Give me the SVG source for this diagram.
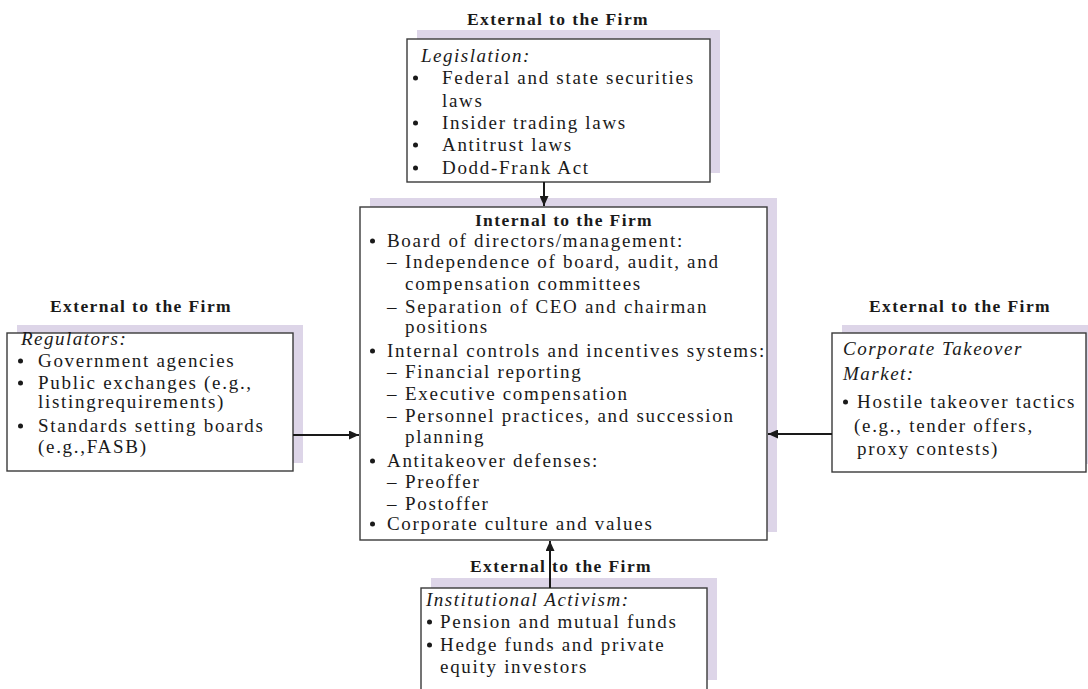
<svg xmlns="http://www.w3.org/2000/svg" width="1088" height="689" viewBox="0 0 1088 689">
<style>
.sh{fill:#ddd5e8;stroke:none}
.bx{fill:#ffffff;stroke:#3a3a3a;stroke-width:1.4}
.b{fill:#1a1a1a}
text{font-family:"Liberation Serif","Times New Roman",serif;fill:#1a1a1a}
.t{font-size:19px;letter-spacing:1.7px}
.i{font-size:19px;letter-spacing:1.5px;font-style:italic}
.h{font-size:17.5px;font-weight:bold;letter-spacing:1.4px;text-anchor:middle}
.cn{stroke:#1a1a1a;stroke-width:2;fill:none}
</style>
<defs>
<marker id="ah" viewBox="0 0 10 10" refX="10" refY="5" markerWidth="5" markerHeight="4.5" orient="auto" markerUnits="strokeWidth" preserveAspectRatio="none">
<path d="M0,0 L10,5 L0,10 z" fill="#1a1a1a"/>
</marker>
</defs>
<rect width="1088" height="689" fill="#ffffff"/>

<g id="legislation">
<text class="h" x="558" y="25">External to the Firm</text>
<rect class="sh" x="417" y="30" width="303" height="143"/>
<rect class="bx" x="407" y="39" width="303" height="143"/>
<text class="i" x="421" y="62">Legislation:</text>
<circle class="b" cx="415.5" cy="78" r="2.5"/><text class="t" x="442" y="84">Federal and state securities</text>
<text class="t" x="442" y="107">laws</text>
<circle class="b" cx="415.5" cy="123" r="2.5"/><text class="t" x="442" y="129">Insider trading laws</text>
<circle class="b" cx="415.5" cy="145" r="2.5"/><text class="t" x="442" y="151">Antitrust laws</text>
<circle class="b" cx="415.5" cy="168" r="2.5"/><text class="t" x="442" y="174">Dodd-Frank Act</text>
</g>

<g id="internal">
<rect class="sh" x="370" y="198" width="407" height="334"/>
<rect class="bx" x="360" y="207" width="407" height="333"/>
<text class="h" x="564" y="226">Internal to the Firm</text>
<circle class="b" cx="372.5" cy="241" r="2.5"/><text class="t" x="387" y="247">Board of directors/management:</text>
<text class="t" x="387" y="268">–</text><text class="t" x="405" y="268">Independence of board, audit, and</text>
<text class="t" x="405" y="290">compensation committees</text>
<text class="t" x="387" y="313">–</text><text class="t" x="405" y="313">Separation of CEO and chairman</text>
<text class="t" x="405" y="333">positions</text>
<circle class="b" cx="372.5" cy="351" r="2.5"/><text class="t" x="387" y="357">Internal controls and incentives systems:</text>
<text class="t" x="387" y="378">–</text><text class="t" x="405" y="378">Financial reporting</text>
<text class="t" x="387" y="400">–</text><text class="t" x="405" y="400">Executive compensation</text>
<text class="t" x="387" y="422">–</text><text class="t" x="405" y="422">Personnel practices, and succession</text>
<text class="t" x="405" y="443">planning</text>
<circle class="b" cx="372.5" cy="461" r="2.5"/><text class="t" x="387" y="467">Antitakeover defenses:</text>
<text class="t" x="387" y="488">–</text><text class="t" x="405" y="488">Preoffer</text>
<text class="t" x="387" y="510">–</text><text class="t" x="405" y="510">Postoffer</text>
<circle class="b" cx="372.5" cy="524" r="2.5"/><text class="t" x="387" y="530">Corporate culture and values</text>
</g>

<g id="regulators">
<text class="h" x="141" y="312">External to the Firm</text>
<rect class="sh" x="17" y="325" width="286" height="138"/>
<rect class="bx" x="7" y="333" width="286" height="138"/>
<text class="i" x="21" y="345">Regulators:</text>
<circle class="b" cx="20.5" cy="361" r="2.5"/><text class="t" x="38" y="367">Government agencies</text>
<circle class="b" cx="20.5" cy="383" r="2.5"/><text class="t" x="38" y="389">Public exchanges (e.g.,</text>
<text class="t" x="38" y="408">listingrequirements)</text>
<circle class="b" cx="20.5" cy="426" r="2.5"/><text class="t" x="38" y="432">Standards setting boards</text>
<text class="t" x="38" y="453">(e.g.,FASB)</text>
</g>

<g id="takeover">
<text class="h" x="960" y="312">External to the Firm</text>
<rect class="sh" x="842" y="325" width="250" height="139"/>
<rect class="bx" x="832" y="333" width="254" height="139"/>
<text class="i" x="843" y="355">Corporate Takeover</text>
<text class="i" x="843" y="380">Market:</text>
<circle class="b" cx="845.5" cy="402" r="2.5"/><text class="t" x="857" y="408">Hostile takeover tactics</text>
<text class="t" x="854" y="432">(e.g., tender offers,</text>
<text class="t" x="857" y="455">proxy contests)</text>
</g>

<g id="activism">
<text class="h" x="561" y="572">External to the Firm</text>
<rect class="sh" x="431" y="578" width="286" height="102"/>
<rect class="bx" x="421" y="588" width="286" height="110"/>
<text class="i" x="426" y="606">Institutional Activism:</text>
<circle class="b" cx="429.5" cy="622" r="2.5"/><text class="t" x="440" y="628">Pension and mutual funds</text>
<circle class="b" cx="429.5" cy="645" r="2.5"/><text class="t" x="440" y="651">Hedge funds and private</text>
<text class="t" x="440" y="673">equity investors</text>
</g>

<g id="connectors">
<line class="cn" x1="544" y1="182" x2="544" y2="206" marker-end="url(#ah)"/>
<line class="cn" x1="293" y1="435" x2="359" y2="435" marker-end="url(#ah)"/>
<line class="cn" x1="832" y1="434" x2="768" y2="434" marker-end="url(#ah)"/>
<line class="cn" x1="550" y1="588" x2="550" y2="541" marker-end="url(#ah)"/>
</g>
</svg>
